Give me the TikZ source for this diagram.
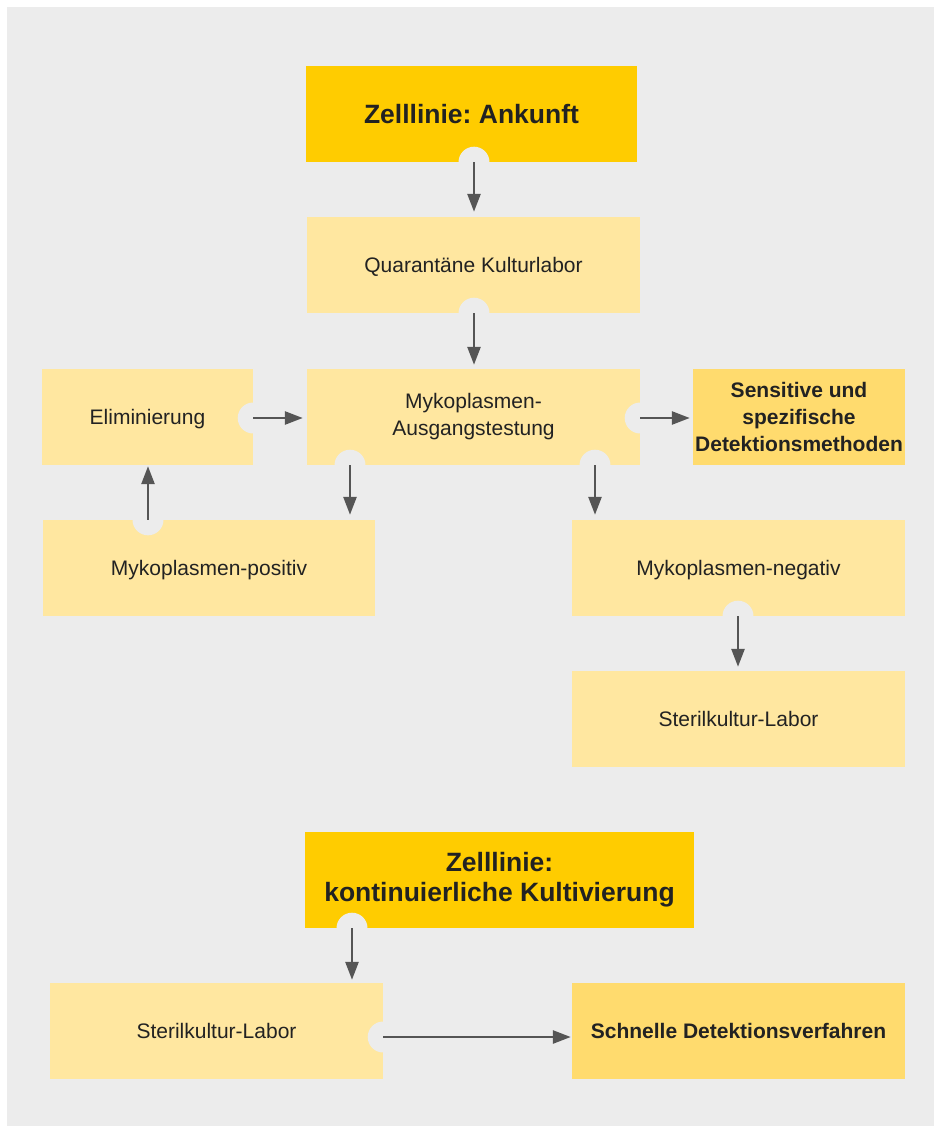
\documentclass[tikz,border=0pt]{standalone}
\usepackage{fontspec}
\setmainfont{Liberation Sans}
\usetikzlibrary{arrows.meta,positioning}
\frenchspacing

\definecolor{panelgray}{HTML}{ECECEC}
\definecolor{darkyellow}{HTML}{FFCC00}
\definecolor{lightyellow}{HTML}{FFE7A0}
\definecolor{midyellow}{HTML}{FFDB6E}
\definecolor{arrowgray}{HTML}{555555}
\definecolor{textgray}{HTML}{222222}

\tikzset{
	box/.style={fill=lightyellow, minimum width=333pt, minimum height=96pt, inner sep=0pt,
		align=center, text=textgray, font=\fontsize{21}{27}\selectfont},
	keybox/.style={box, fill=darkyellow, font=\fontsize{26.5}{30}\selectfont\bfseries},
	methbox/.style={box, fill=midyellow, font=\fontsize{21}{27}\selectfont\bfseries},
	oneline/.style={text height=15pt, text depth=0pt},
	flow/.style={draw=arrowgray, line width=2.7pt, -{Triangle[length=18pt,width=13pt]}}
}

\begin{document}
\begin{tikzpicture}[x=1pt,y=-1pt]
	% page and grey panel
	\fill[white] (0,0) rectangle (934,1126);
	\fill[panelgray] (7,7) rectangle (934,1126);
	% upper chart: arrival of the cell line
	\node[keybox, minimum width=331pt, text height=19pt, text depth=0pt] (ankunft) at (471.5,114) {Zelllinie: Ankunft};
	\node[box, oneline] (quarantaene) at (473.5,265) {Quarantäne Kulturlabor};
	\node[box] (ausgang) at (473.5,417) {Mykoplasmen-\\Ausgangstestung};
	\node[box, oneline, minimum width=211pt] (elim) at (147.5,417) {Eliminierung};
	\node[methbox, minimum width=212pt] (sensitiv) at (799,417) {Sensitive und\\spezifische\\Detektionsmethoden};
	\node[box, oneline, minimum width=332pt] (positiv) at (209,568) {Mykoplasmen-positiv};
	\node[box, oneline] (negativ) at (738.5,568) {Mykoplasmen-negativ};
	\node[box, oneline] (steril) at (738.5,719) {Sterilkultur-Labor};
	% lower chart: continuous culture
	\node[keybox, minimum width=389pt] (kont) at (499.5,880) {Zelllinie:\\kontinuierliche Kultivierung};
	\node[box, oneline] (sterilb) at (216.5,1031) {Sterilkultur-Labor};
	\node[methbox, oneline] (schnell) at (738.5,1031) {Schnelle Detektionsverfahren};
	% notches where the arrows leave a box
	\coordinate (n1) at ([xshift=2.5pt]ankunft.south);
	\coordinate (n2) at ([xshift=0.5pt]quarantaene.south);
	\coordinate (n3) at ([xshift=-123.5pt]ausgang.south);
	\coordinate (n4) at ([xshift=121.5pt]ausgang.south);
	\coordinate (n5) at ([yshift=-1pt]ausgang.east);
	\coordinate (n6) at ([yshift=-1pt]elim.east);
	\coordinate (n7) at ([xshift=-61pt]positiv.north);
	\coordinate (n8) at ([xshift=-0.5pt]negativ.south);
	\coordinate (n9) at ([xshift=-147.5pt]kont.south);
	\coordinate (n10) at ([yshift=-6pt]sterilb.east);
	\foreach \n in {n1,n2,n3,n4,n5,n6,n7,n8,n9,n10}
		\fill[panelgray] (\n) circle (15.5);
	% arrows
	\draw[flow, shorten >=5pt] (n1) -- (n1 |- quarantaene.north);
	\draw[flow, shorten >=4pt] (n2) -- (n2 |- ausgang.north);
	\draw[flow, shorten >=4pt] (n6) -- (n6 -| ausgang.west);
	\draw[flow, shorten >=3pt] (n5) -- (n5 -| sensitiv.west);
	\draw[flow, shorten >=5pt] (n3) -- (n3 |- positiv.north);
	\draw[flow, shorten >=5pt] (n4) -- (n4 |- negativ.north);
	\draw[flow, shorten >=1pt] (n7) -- (n7 |- elim.south);
	\draw[flow, shorten >=4pt] (n8) -- (n8 |- steril.north);
	\draw[flow, shorten >=3pt] (n9) -- (n9 |- sterilb.north);
	\draw[flow, shorten >=1pt] (n10) -- (n10 -| schnell.west);
\end{tikzpicture}
\end{document}
